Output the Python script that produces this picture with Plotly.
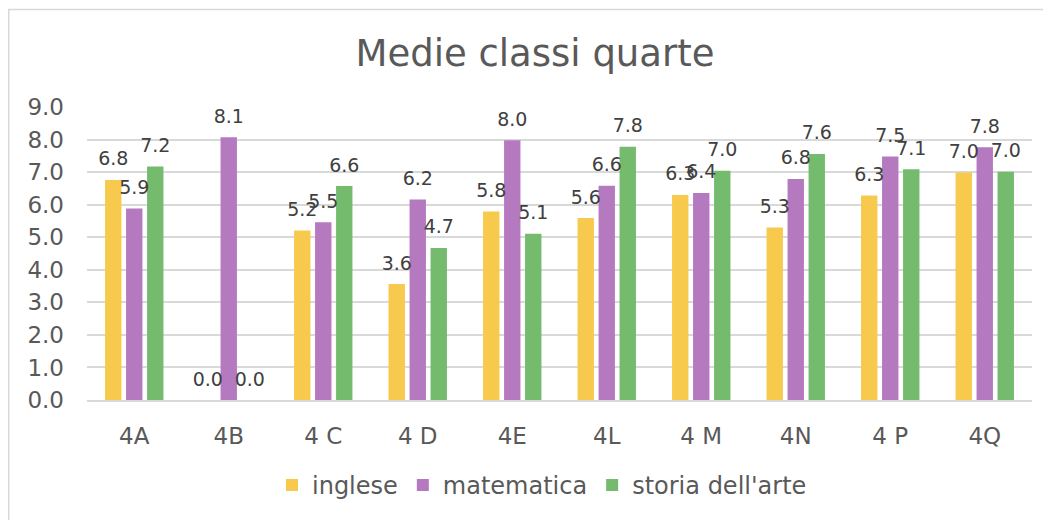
import plotly.graph_objects as go

categories = ["4A", "4B", "4 C", "4 D", "4E", "4L", "4 M", "4N", "4 P", "4Q"]
inglese = [6.76, 0.0, 5.21, 3.56, 5.79, 5.59, 6.30, 5.30, 6.28, 6.99]
matematica = [5.88, 8.07, 5.46, 6.16, 7.98, 6.58, 6.36, 6.79, 7.48, 7.76]
storia_arte = [7.17, 0.0, 6.57, 4.67, 5.11, 7.78, 7.04, 7.56, 7.09, 7.01]

series = [
    ("inglese", inglese, "#F7C94D"),
    ("matematica", matematica, "#B579C0"),
    ("storia dell'arte", storia_arte, "#75BB6E"),
]

FONT = "DejaVu Sans, Verdana, sans-serif"

fig = go.Figure()
for i, (name, vals, col) in enumerate(series):
    fig.add_trace(go.Bar(
        x=categories, y=vals, name=name,
        marker=dict(color=col, line=dict(width=0)),
        offsetgroup=str(i), alignmentgroup="a",
    ))
for i, (name, vals, col) in enumerate(series):
    fig.add_trace(go.Scatter(
        x=categories, y=vals, name=name + " labels",
        mode="markers+text", text=[f"{v:.1f}" for v in vals],
        textposition="top center",
        textfont=dict(family=FONT, size=19, color="#404040"),
        marker=dict(size=14, opacity=0),
        offsetgroup=str(i), alignmentgroup="a",
        showlegend=False, hoverinfo="skip", cliponaxis=False,
    ))

# page body has an 8px margin in the viewer: figure sized to fit window
W, H = 1043, 512
L, R, T, B = 79, 19, 99, 118
pw = W - L - R
ph = H - T - B

fig.update_layout(
    width=W, height=H,
    margin=dict(l=L, r=R, t=T, b=B),
    paper_bgcolor="white", plot_bgcolor="white",
    barmode="group", bargap=0.333, bargroupgap=0.22,
    scattermode="group", scattergap=0.333,
    font=dict(family=FONT, color="#595959"),
    title=dict(text="Medie classi quarte", x=527 / W, xanchor="center",
               y=1 - 45 / H, yanchor="middle", yref="container",
               font=dict(family=FONT, size=37, color="#595959")),
    legend=dict(orientation="h", x=(534 - L) / pw, xanchor="center",
                y=(394 - 480) / ph, yanchor="middle",
                font=dict(family=FONT, size=24, color="#595959"),
                traceorder="normal"),
    showlegend=True,
    shapes=[dict(type="rect", xref="paper", yref="paper",
                 x0=(0.75 - L) / pw, x1=(W + 10 - L) / pw,
                 y0=(T + ph - (H + 10)) / ph, y1=1 + (T - 0.75) / ph,
                 line=dict(color="#D9D9D9", width=1.5), fillcolor="rgba(0,0,0,0)",
                 layer="below")],
)
fig.update_yaxes(range=[0, 9], dtick=1, tickformat=".1f",
                 showgrid=True, gridcolor="#D9D9D9", gridwidth=1.5,
                 zeroline=False, showline=False,
                 tickfont=dict(family=FONT, size=23, color="#595959"),
                 ticklabelstandoff=22)
fig.update_xaxes(showline=True, linecolor="#D9D9D9", linewidth=2,
                 showgrid=False, ticks="",
                 tickfont=dict(family=FONT, size=23, color="#595959"),
                 ticklabelstandoff=14)

fig.write_html("out.html")
